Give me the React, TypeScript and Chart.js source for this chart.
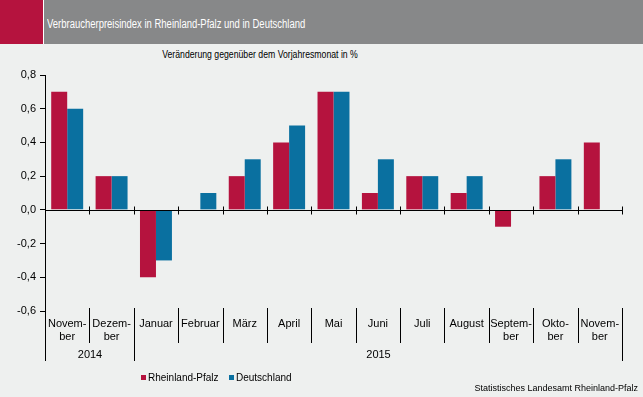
import React, { useEffect, useRef } from "react";
import { Chart, registerables } from "chart.js";
Chart.register(...registerables);

const months: (string | string[])[] = [
  ["Novem-", "ber"], ["Dezem-", "ber"], "Januar", "Februar", "März", "April", "Mai",
  "Juni", "Juli", "August", ["Septem-", "ber"], ["Okto-", "ber"], ["Novem-", "ber"],
];
const years = ["2014", "2015"];
const monthsPerYear = [2, 11];
const rheinlandPfalz = [0.7, 0.2, -0.4, 0.0, 0.2, 0.4, 0.7, 0.1, 0.2, 0.1, -0.1, 0.2, 0.4];
const deutschland = [0.6, 0.2, -0.3, 0.1, 0.3, 0.5, 0.7, 0.3, 0.2, 0.2, 0.0, 0.3, null];
const seriesNames = ["Rheinland-Pfalz", "Deutschland"];
const yMin = -0.6;
const yMax = 0.8;
const yStep = 0.2;

const CRIMSON = "#b5133e";
const BLUE = "#0a70a0";
const FONT = "'Liberation Sans', Arial, sans-serif";

export default function App() {
  const ref = useRef<HTMLCanvasElement>(null);

  useEffect(() => {
    const canvas = ref.current!;
    const overlay = {
      id: "overlay",
      afterDraw(chart: any) {
        const { ctx, chartArea: a, scales } = chart;
        const x = scales.x;
        const y = scales.y;
        const crisp = (v: number) => Math.round(v) + 0.5;
        const n = months.length;
        const bounds: number[] = [];
        for (let i = 0; i <= n; i++) bounds.push(crisp(x.getPixelForValue(i - 0.5)));
        const yearEnds: number[] = [];
        let acc = 0;
        monthsPerYear.forEach((m) => { acc += m; yearEnds.push(acc); });
        const y0 = crisp(y.getPixelForValue(0));
        ctx.save();
        ctx.strokeStyle = "#000";
        ctx.lineWidth = 1;
        ctx.beginPath();
        ctx.moveTo(bounds[0], a.top);
        ctx.lineTo(bounds[0], a.bottom + 50);
        ctx.moveTo(bounds[0], y0);
        ctx.lineTo(bounds[n], y0);
        for (let i = 1; i <= n; i++) {
          ctx.moveTo(bounds[i], y0 - 4);
          ctx.lineTo(bounds[i], y0 + 4);
          const isYear = yearEnds.includes(i);
          ctx.moveTo(bounds[i], a.bottom - 3);
          ctx.lineTo(bounds[i], a.bottom + (isYear ? 50 : 32));
        }
        ctx.stroke();

        // year labels
        ctx.fillStyle = "#000";
        ctx.font = `11px ${FONT}`;
        ctx.textAlign = "center";
        ctx.textBaseline = "middle";
        let start = 0;
        years.forEach((yr, k) => {
          const end = start + monthsPerYear[k];
          ctx.fillText(yr, (bounds[start] + bounds[end]) / 2, a.bottom + 44);
          start = end;
        });

        // legend
        ctx.font = `10px ${FONT}`;
        ctx.textAlign = "left";
        const legendX = [141, 229];
        chart.data.datasets.forEach((ds: any, k: number) => {
          ctx.fillStyle = ds.backgroundColor;
          ctx.fillRect(legendX[k], 375, 5, 5);
          ctx.fillStyle = "#000";
          ctx.fillText(ds.label, legendX[k] + 7, 378);
        });

        // source
        ctx.font = `9px ${FONT}`;
        ctx.textAlign = "right";
        ctx.fillText("Statistisches Landesamt Rheinland-Pfalz", 638, 389);
        ctx.restore();
      },
    };

    const chart = new Chart(canvas, {
      type: "bar",
      data: {
        labels: months as any,
        datasets: [
          { label: seriesNames[0], data: rheinlandPfalz, backgroundColor: CRIMSON, barPercentage: 1, categoryPercentage: 0.72 },
          { label: seriesNames[1], data: deutschland as any, backgroundColor: BLUE, barPercentage: 1, categoryPercentage: 0.72 },
        ],
      },
      options: {
        responsive: false,
        animation: false,
        devicePixelRatio: 1,
        layout: { padding: { top: 75, right: 21, bottom: 0, left: 0 } },
        plugins: { legend: { display: false }, tooltip: { enabled: false }, title: { display: false } },
        scales: {
          x: {
            grid: { display: false, drawTicks: false, tickLength: 0 },
            border: { display: false },
            ticks: {
              autoSkip: false, maxRotation: 0, minRotation: 0, padding: 6, color: "#000",
              font: { family: FONT, size: 11, lineHeight: 1.2 },
            },
            afterFit(scale: any) { scale.height = 86; },
          },
          y: {
            min: yMin,
            max: yMax,
            grid: { drawOnChartArea: false, drawTicks: true, tickLength: 5, color: "#000" },
            border: { display: false },
            ticks: {
              stepSize: yStep, padding: 4, color: "#000",
              font: { family: FONT, size: 11 },
              callback: (v: any) => (Math.abs(v) < 1e-9 ? 0 : Number(v)).toFixed(1).replace(".", ","),
            },
            afterFit(scale: any) { scale.width = 45; },
          },
        },
      },
      plugins: [overlay],
    });
    return () => chart.destroy();
  }, []);

  return (
    <div style={{ position: "fixed", left: 0, top: 0, width: 643, height: 397, background: "#eef0ef", overflow: "hidden" }}>
      <div style={{ position: "absolute", left: 0, top: 0, width: 43, height: 44, background: CRIMSON }} />
      <div style={{ position: "absolute", left: 43, top: 0, width: 1, height: 44, background: "#ffffff" }} />
      <div style={{ position: "absolute", left: 44, top: 0, width: 599, height: 44, background: "#878889" }} />
      <div style={{ position: "absolute", left: 47, top: 17, fontFamily: FONT, fontSize: 12, lineHeight: "14px", color: "#fff", whiteSpace: "nowrap", transform: "scaleX(0.79)", transformOrigin: "left center" }}>
        Verbraucherpreisindex in Rheinland-Pfalz und in Deutschland
      </div>
      <div style={{ position: "absolute", left: 260, top: 48, fontFamily: FONT, fontSize: 11, lineHeight: "13px", color: "#000", whiteSpace: "nowrap", transform: "translateX(-50%) scaleX(0.79)", transformOrigin: "center center" }}>
        Veränderung gegenüber dem Vorjahresmonat in %
      </div>
      <canvas ref={ref} width={643} height={397} style={{ position: "absolute", left: 0, top: 0 }} />
    </div>
  );
}
